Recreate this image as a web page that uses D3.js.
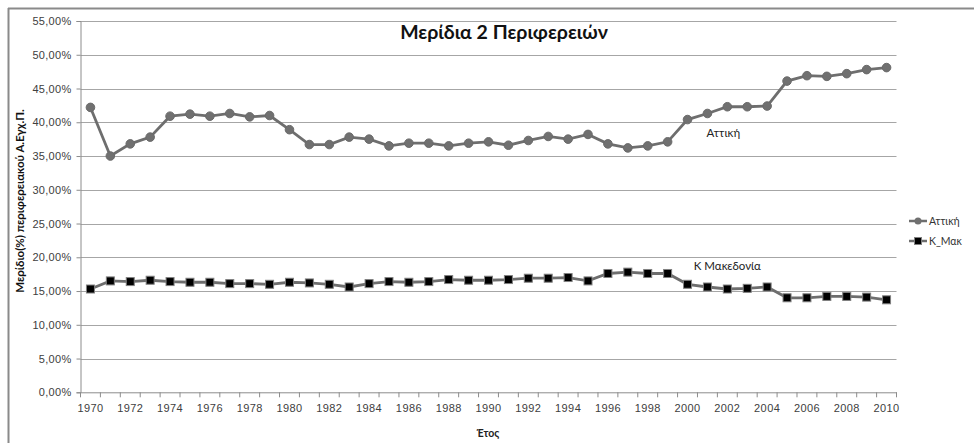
<!DOCTYPE html>
<html>
<head>
<meta charset="utf-8">
<script src="https://cdn.jsdelivr.net/npm/d3@7"></script>
<style>
  html, body { margin: 0; padding: 0; background: #fff; }
  svg { display: block; font-family: Lato, "Open Sans", sans-serif; }
</style>
</head>
<body>
<svg id="chart" width="974" height="443"></svg>
<script>
const years = d3.range(1970, 2011);
const chartTitle = "Μερίδια 2 Περιφερειών";
const yAxisTitle = "Μερίδιο(%) περιφερειακού Α.Εγχ.Π.";
const xAxisTitle = "Έτος";
const seriesNames = ["Αττική", "Κ_Μακ"];
const attikiValues = [42.2, 35.0, 36.8, 37.8, 40.9, 41.2, 40.9, 41.3, 40.8, 41.0, 38.9, 36.7, 36.7, 37.8, 37.5, 36.5, 36.9, 36.9, 36.5, 36.9, 37.1, 36.6, 37.3, 37.9, 37.5, 38.2, 36.8, 36.2, 36.5, 37.1, 40.4, 41.3, 42.3, 42.3, 42.4, 46.1, 46.9, 46.8, 47.2, 47.8, 48.1];
const kmakValues = [15.3, 16.5, 16.4, 16.6, 16.4, 16.3, 16.3, 16.1, 16.1, 16.0, 16.3, 16.2, 16.0, 15.6, 16.1, 16.4, 16.3, 16.4, 16.7, 16.6, 16.6, 16.7, 16.9, 16.9, 17.0, 16.5, 17.6, 17.8, 17.6, 17.6, 16.0, 15.6, 15.3, 15.4, 15.6, 14.0, 14.0, 14.2, 14.2, 14.1, 13.7];
const yTicks = [0, 5, 10, 15, 20, 25, 30, 35, 40, 45, 50, 55];
const xLabelYears = years.filter(y => y % 2 === 0);
const seriesLabels = [{ text: "Αττική", year: 2001.8, value: 37.8 }, { text: "Κ Μακεδονία", year: 2002, value: 18.1 }];

const svg = d3.select("#chart");
const pLeft = 80.5, pRight = 896.5, pTop = 21, pBottom = 392.3;

const x = d3.scaleBand().domain(years).range([pLeft, pRight]);
const xc = yr => x(yr) + x.bandwidth() / 2;
const y = d3.scaleLinear().domain([0, 55]).range([pBottom, pTop]);

// outer border (partially visible)
svg.append("line").attr("x1", 8).attr("x2", 974).attr("y1", 8.5).attr("y2", 8.5).attr("stroke", "#8a8a8a").attr("stroke-width", 2);
svg.append("line").attr("x1", 8.5).attr("x2", 8.5).attr("y1", 8).attr("y2", 443).attr("stroke", "#8a8a8a").attr("stroke-width", 2);

// gridlines
svg.append("g").selectAll("line").data(yTicks.filter(t => t > 0)).join("line")
  .attr("x1", pLeft).attr("x2", pRight)
  .attr("y1", d => Math.round(y(d)) + 0.5).attr("y2", d => Math.round(y(d)) + 0.5)
  .attr("stroke", "#a6a6a6").attr("stroke-width", 1);

// y axis
const fmt = d => d.toFixed(2).replace(".", ",") + "%";
const yAxis = svg.append("g").attr("transform", `translate(${pLeft},0)`)
  .call(d3.axisLeft(y).tickValues(yTicks).tickFormat(fmt).tickSize(4).tickPadding(5));
yAxis.select(".domain").attr("stroke", "#8c8c8c");
yAxis.selectAll(".tick line").attr("stroke", "#8c8c8c");
yAxis.selectAll("text").attr("font-size", 11).attr("fill", "#404040").attr("letter-spacing", 0.3);

// x axis
const xAxis = svg.append("g").attr("transform", `translate(0,${pBottom})`)
  .call(d3.axisBottom(x).tickValues(xLabelYears).tickSize(0).tickPadding(12));
xAxis.select(".domain").attr("stroke", "#8c8c8c");
xAxis.selectAll("text").attr("font-size", 11).attr("fill", "#404040").attr("letter-spacing", 0.4);
svg.append("g").selectAll("line").data(years.concat([2011])).join("line")
  .attr("x1", d => (d === 2011 ? pRight : x(d))).attr("x2", d => (d === 2011 ? pRight : x(d)))
  .attr("y1", pBottom).attr("y2", pBottom + 5)
  .attr("stroke", "#8c8c8c");

const line = d3.line().x((d, i) => xc(years[i])).y(d => y(d));

// Attiki
svg.append("path").datum(attikiValues).attr("d", line)
  .attr("fill", "none").attr("stroke", "#6e6e6e").attr("stroke-width", 2.8);
svg.append("g").selectAll("circle").data(attikiValues).join("circle")
  .attr("cx", (d, i) => xc(years[i])).attr("cy", d => y(d)).attr("r", 4.3)
  .attr("fill", "#707070").attr("stroke", "#6a6a6a").attr("stroke-width", 1);

// K_Mak
svg.append("path").datum(kmakValues).attr("d", line)
  .attr("fill", "none").attr("stroke", "#6e6e6e").attr("stroke-width", 2.8);
svg.append("g").selectAll("rect").data(kmakValues).join("rect")
  .attr("x", (d, i) => xc(years[i]) - 4).attr("y", d => y(d) - 4)
  .attr("width", 8).attr("height", 8)
  .attr("fill", "#000").attr("stroke", "#808080").attr("stroke-width", 1);

// series labels
svg.append("g").selectAll("text").data(seriesLabels).join("text")
  .attr("x", d => xc(Math.floor(d.year)) + (d.year % 1) * x.bandwidth())
  .attr("y", d => y(d.value))
  .attr("text-anchor", "middle").attr("font-size", 11.5).attr("fill", "#222")
  .text(d => d.text);

// title
svg.append("text").attr("x", 504).attr("y", 39).attr("text-anchor", "middle")
  .attr("font-size", 19.5).attr("font-weight", "bold").attr("fill", "#111").text(chartTitle);

// y axis title
svg.append("text").attr("transform", "translate(24,201) rotate(-90)")
  .attr("text-anchor", "middle").attr("font-size", 11.5).attr("font-weight", "bold").attr("fill", "#111")
  .text(yAxisTitle);

// x axis title
svg.append("text").attr("x", 488).attr("y", 437).attr("text-anchor", "middle")
  .attr("font-size", 10.5).attr("font-weight", "bold").attr("fill", "#222").text(xAxisTitle);

// legend
const legend = svg.append("g");
seriesNames.forEach((name, i) => {
  const ly = 221 + i * 20;
  const g = legend.append("g");
  g.append("line").attr("x1", 909).attr("x2", 927).attr("y1", ly).attr("y2", ly)
    .attr("stroke", "#6e6e6e").attr("stroke-width", 2.5);
  if (i === 0) {
    g.append("circle").attr("cx", 918).attr("cy", ly).attr("r", 3.5).attr("fill", "#707070");
  } else {
    g.append("rect").attr("x", 914.5).attr("y", ly - 3.5).attr("width", 7).attr("height", 7)
      .attr("fill", "#000").attr("stroke", "#808080");
  }
  g.append("text").attr("x", 929).attr("y", ly + 4).attr("font-size", 10.5).attr("fill", "#333").text(name);
});
</script>
</body>
</html>
